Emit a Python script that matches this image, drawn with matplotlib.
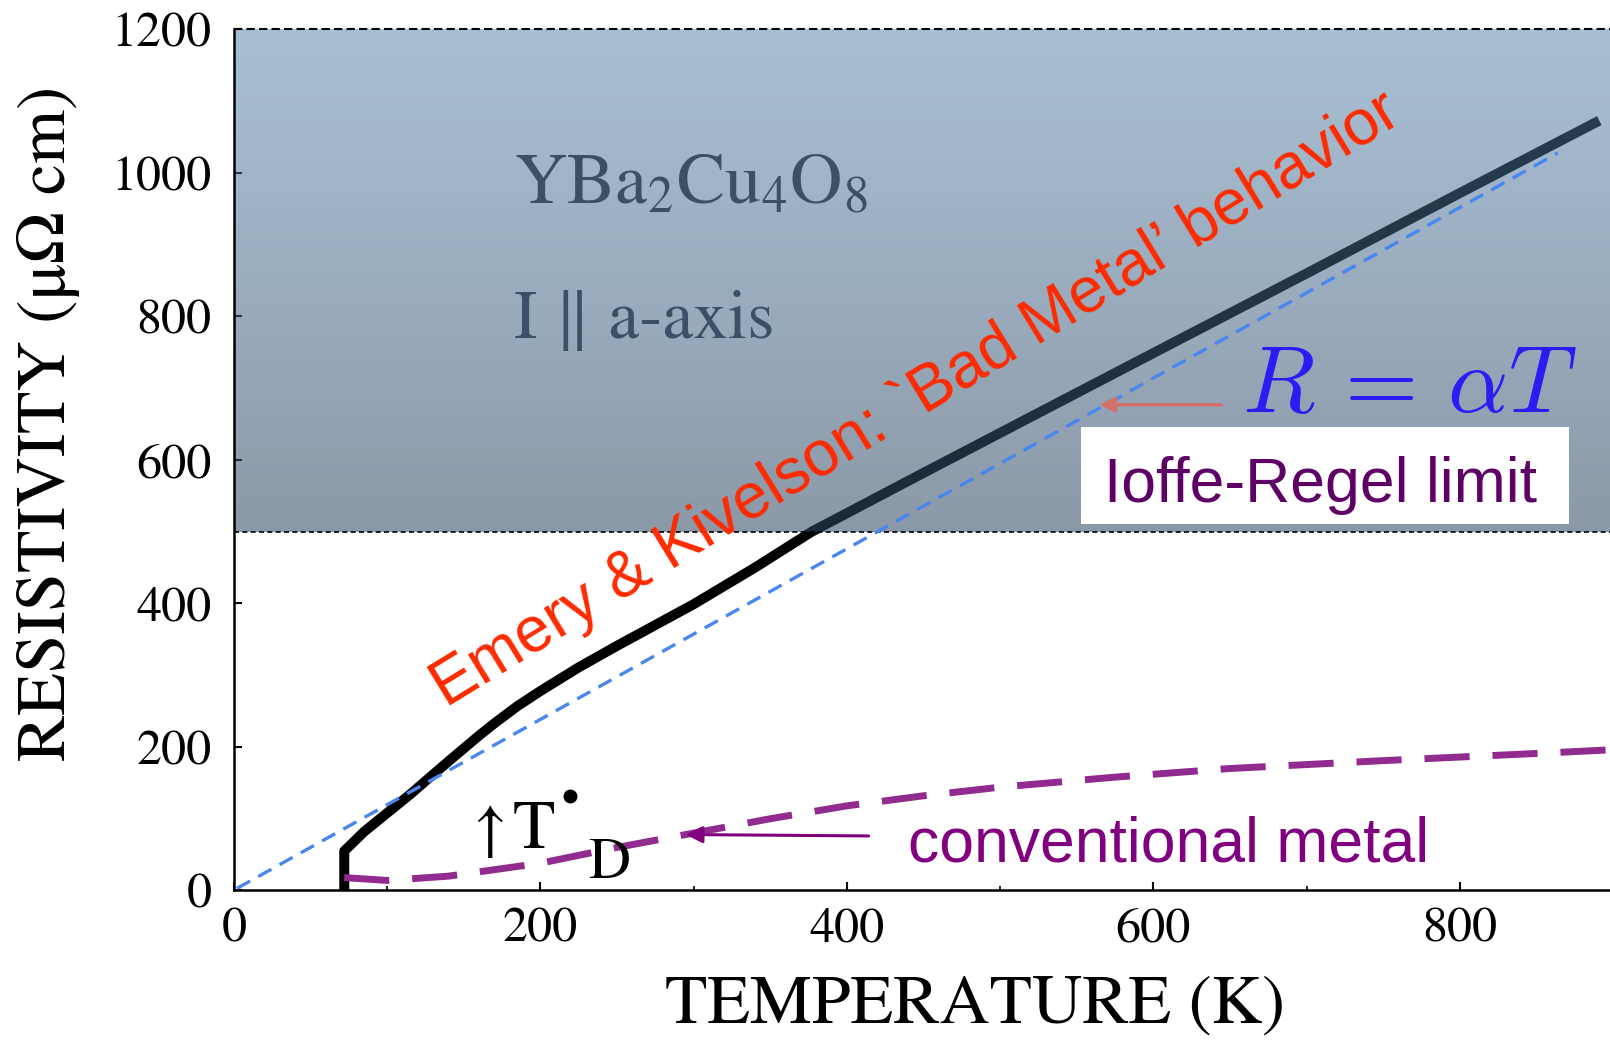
import numpy as np
import matplotlib
matplotlib.use('Agg')
import matplotlib.pyplot as plt
from matplotlib.patches import Rectangle
from matplotlib.ticker import MultipleLocator

temp_black = [72, 72, 85, 100, 115, 128, 140, 150, 160, 170, 185, 200, 225, 250, 275, 300, 340, 377, 450, 520, 600, 700, 800, 891]
rho_black = [0, 55, 82, 108, 134, 158, 180, 198, 216, 233, 257, 278, 311, 341, 370, 399, 450, 500, 582, 660, 749, 860, 972, 1073]

# sketched "conventional metal" curve
temp_conv = [72, 100, 140, 200, 250, 300, 350, 400, 450, 500, 575, 650, 750, 850, 898]
rho_conv = [18, 14, 20, 38, 60, 80, 100, 118, 132, 144, 158, 170, 181, 191, 196]

# R = alpha T guide line
temp_lin = [2, 864]
rho_lin = [3, 1028]

ioffe_regel = 500
x_ticks = [0, 200, 400, 600, 800]
y_ticks = [0, 200, 400, 600, 800, 1000, 1200]

plt.rcParams['font.family'] = ['STIXGeneral', 'DejaVu Serif']
plt.rcParams['mathtext.fontset'] = 'cm'

fig = plt.figure(figsize=(16.1, 10.42), dpi=100)
ax = fig.add_axes([0.1453, 0.1454, 0.8547, 0.8263])

# data curve sits under the tinted box
ax.plot(temp_black, rho_black, color='black', lw=7.2, solid_joinstyle='round',
        solid_capstyle='butt', zorder=1.5)

# blue-gray tinted "bad metal" region above the Ioffe-Regel limit
n = 256
t = np.linspace(0, 1, n)[:, None]
top_c = np.array([0.32, 0.50, 0.66])
bot_c = np.array([0.195, 0.29, 0.39])
rgba = np.zeros((n, 2, 4))
rgba[:, :, :3] = (top_c * (1 - t) + bot_c * t)[:, None, :]
rgba[:, :, 3] = 0.50 * (1 - t) + 0.565 * t
ax.imshow(rgba, extent=(0, 898, ioffe_regel, 1200), aspect='auto', zorder=2,
          interpolation='bilinear')

ax.plot([0, 898], [ioffe_regel, ioffe_regel], color='black', lw=1.2,
        ls=(0, (3, 2)), zorder=3)
ax.plot([0, 898], [1200, 1200], color='black', lw=1.5, ls=(0, (4, 2)),
        zorder=3, clip_on=False)

ax.plot(temp_lin, rho_lin, color='#4a86f0', lw=2.4, dashes=(4.5, 2.8), zorder=3)
ax.plot(temp_conv, rho_conv, color='#922b8f', lw=5, dashes=(6.5, 3.3), zorder=3)

# scanned labels
ax.text(183, 958, r'YBa$_2$Cu$_4$O$_8$', fontsize=52, color='#3b4f66',
        math_fontfamily='stix', zorder=3)
ax.text(183, 770, 'I \u2016 a-axis', fontsize=50, color='#3b4f66', zorder=3)
ax.text(156, 59, '\u2191', fontsize=46, color='black', zorder=3)
ax.text(182, 59, 'T', fontsize=50, color='black', zorder=3)
ax.plot([219], [132], marker='o', ms=9, color='black', ls='none', zorder=3)
ax.text(231, 17, 'D', fontsize=42, color='black', zorder=3)

# overlay annotations
ax.text(445, 684, 'Emery & Kivelson: `Bad Metal\u2019 behavior', color='#ff2a00',
        fontsize=46, family='Liberation Sans', rotation=31.5, rotation_mode='anchor',
        ha='center', va='center', zorder=5)

ax.add_patch(Rectangle((553, 511), 318, 135, facecolor='white', edgecolor='none', zorder=4))
ax.text(568, 542, 'Ioffe-Regel limit', color='#5e0066', fontsize=45,
        family='Liberation Sans', zorder=5)

ax.text(658, 667, r'$R\,=\,\alpha T$', color='#2b1cf2', fontsize=68, zorder=5)
ax.annotate('', xy=(563, 677), xytext=(646, 677), zorder=5,
            arrowprops=dict(arrowstyle='-|>', color='#d4706a', lw=2.5, mutation_scale=22))

ax.text(440, 40, 'conventional metal', color='#800080', fontsize=45,
        family='Liberation Sans', zorder=5)
ax.annotate('', xy=(293, 78), xytext=(416, 76), zorder=5,
            arrowprops=dict(arrowstyle='-|>', color='#800080', lw=2.2, mutation_scale=25))

ax.set_xlim(0, 898)
ax.set_ylim(0, 1200)
ax.set_xticks(x_ticks)
ax.set_yticks(y_ticks)
ax.xaxis.set_minor_locator(MultipleLocator(100))
for s in ['top', 'right']:
    ax.spines[s].set_visible(False)
for s in ['left', 'bottom']:
    ax.spines[s].set_linewidth(1.8)
ax.tick_params(axis='both', which='major', direction='in', length=6, width=1.5,
               labelsize=36)
ax.tick_params(axis='x', which='major', pad=12)
ax.tick_params(axis='y', which='major', pad=16)
ax.tick_params(axis='x', which='minor', direction='in', length=3, width=1.2)

fig.text(49 / 1610, 1 - 423 / 1042, 'RESISTIVITY (\u03bc\u03a9 cm)', rotation=90,
         ha='center', va='center', fontsize=50)
fig.text(975 / 1610, 1 - 1006 / 1042, 'TEMPERATURE (K)', ha='center', va='center',
         fontsize=50)

fig.savefig('out.png', dpi=100)
